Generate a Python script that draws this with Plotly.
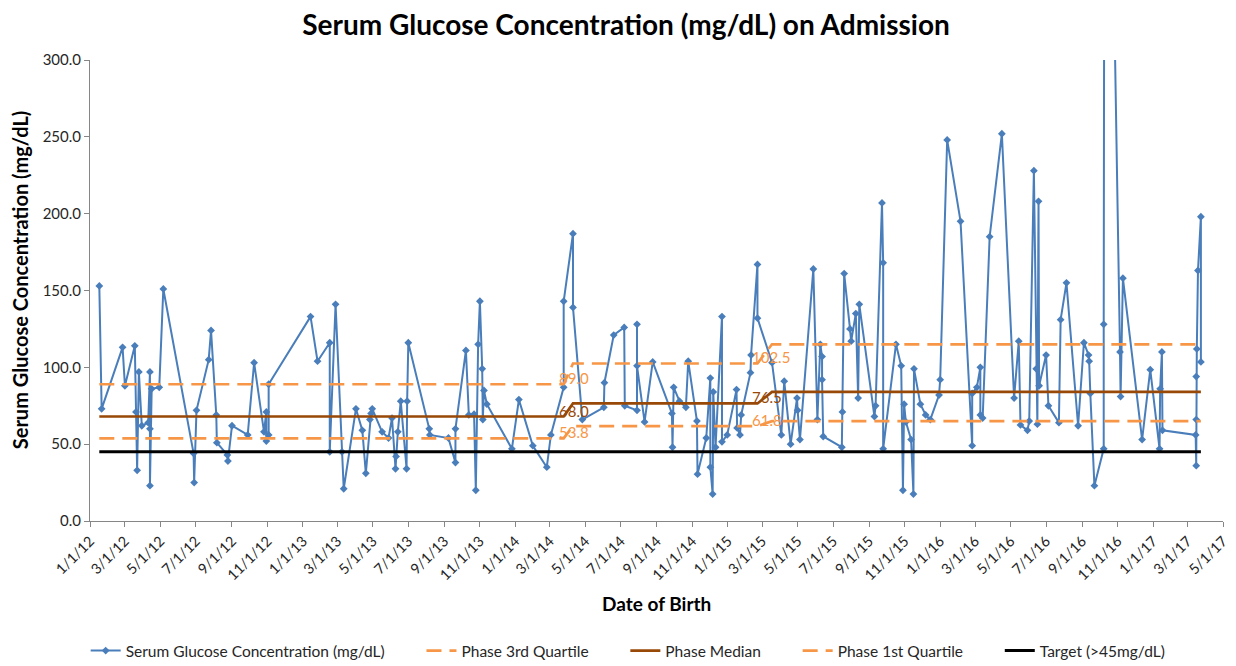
import pandas as pd
import plotly.graph_objects as go

# ---------------- data (dates as Excel serial numbers) ----------------
admit_serial = [
    40925, 40929, 40965, 40969, 40986, 40988, 40990, 40993, 40998, 41009,
    41012, 41012, 41012, 41015, 41028, 41035, 41087, 41088, 41092, 41113,
    41117, 41126, 41127, 41145, 41146, 41153, 41180, 41191, 41208, 41212,
    41212, 41216, 41216, 41288, 41300, 41321, 41321, 41331, 41342, 41345,
    41366, 41377, 41383, 41390, 41392, 41394, 41411, 41422, 41428, 41434,
    41435, 41438, 41443, 41453, 41454, 41456, 41492, 41493, 41525, 41537,
    41537, 41555, 41560, 41569, 41572, 41576, 41579, 41583, 41584, 41586,
    41591, 41634, 41646, 41670, 41694, 41701, 41723, 41723, 41739, 41739,
    41755, 41792, 41793, 41809, 41827, 41828, 41849, 41849, 41849, 41862,
    41876, 41909, 41910, 41912, 41922, 41933, 41937, 41952, 41953, 41968,
    41975, 41975, 41979, 41980, 41984, 41995, 41995, 42004, 42020, 42021,
    42026, 42028, 42044, 42045, 42056, 42056, 42081, 42097, 42102, 42113,
    42124, 42125, 42129, 42152, 42159, 42164, 42167, 42167, 42169, 42201,
    42202, 42205, 42215, 42217, 42225, 42229, 42231, 42257, 42259, 42270,
    42272, 42272, 42294, 42303, 42306, 42308, 42311, 42320, 42324, 42325,
    42336, 42345, 42353, 42368, 42370, 42382, 42405, 42425, 42425, 42433,
    42439, 42439, 42443, 42455, 42476, 42497, 42505, 42508, 42520, 42523,
    42531, 42535, 42537, 42539, 42540, 42552, 42556, 42574, 42577, 42587,
    42607, 42617, 42625, 42626, 42628, 42635, 42651, 42651, 42653, 42679,
    42680, 42684, 42717, 42731, 42747, 42748, 42751, 42752, 42809, 42810,
    42810, 42810, 42811, 42813, 42818, 42818,
]
glucose = [
    153, 73, 113, 88, 114, 71, 33, 97, 62, 64,
    97, 60, 23, 86, 87, 151, 44, 25, 72, 105,
    124, 69, 51, 43, 39, 62, 56, 103, 58, 71,
    52, 56, 89, 133, 104, 116, 45, 141, 45, 21,
    73, 59, 31, 66, 70, 73, 58, 54, 67, 34,
    42, 58, 78, 34, 78, 116, 60, 56, 54, 38,
    60, 111, 69, 69.5, 20, 115, 143, 99, 66, 85,
    76, 47, 79, 49, 35, 56, 87, 143, 187, 139,
    66, 74, 90, 121, 126, 75, 72, 128, 101, 64.5,
    103.5, 70, 48, 87, 78, 74, 104, 65, 30.5, 54,
    93, 35, 17.5, 84, 48, 133, 51.5, 56, 85.5, 60.6,
    56, 69, 96.5, 108, 167, 132, 103, 56, 91, 50,
    80, 72, 53, 164, 66, 115, 107, 92, 55, 48,
    71, 161, 125, 117, 135, 80, 141, 68, 75, 207,
    168, 47, 115, 101, 20, 76, 64.5, 53, 17.5, 99,
    76, 69, 66, 82, 92, 248, 195, 49, 83, 87,
    100, 69, 67, 185, 252, 80, 117, 62.5, 59, 65,
    228, 99, 63, 208, 88, 108, 75, 64, 131, 155,
    62, 116, 108, 104, 83, 23, 47, 128, 700, 110,
    81, 158, 53, 98.5, 47, 86, 110, 59, 56, 36,
    66, 94, 112, 163, 198, 103.5,
]

phase_start_serial = [40925, 41739, 42081]
phase_end_serial = [41723, 42056, 42818]
phase_q3 = [89.0, 102.5, 115.0]
phase_median = [68.0, 76.5, 84.0]
phase_q1 = [53.8, 61.8, 65.0]
labelled_phases = [0, 1]
target_value = 45

x_tick_labels = [
    "1/1/12", "3/1/12", "5/1/12", "7/1/12", "9/1/12", "11/1/12",
    "1/1/13", "3/1/13", "5/1/13", "7/1/13", "9/1/13", "11/1/13",
    "1/1/14", "3/1/14", "5/1/14", "7/1/14", "9/1/14", "11/1/14",
    "1/1/15", "3/1/15", "5/1/15", "7/1/15", "9/1/15", "11/1/15",
    "1/1/16", "3/1/16", "5/1/16", "7/1/16", "9/1/16", "11/1/16",
    "1/1/17", "3/1/17", "5/1/17",
]
y_tick_values = [0, 50, 100, 150, 200, 250, 300]

# ---------------- helpers ----------------
def to_date(serials):
    return pd.to_datetime(serials, unit="D", origin="1899-12-30")

dates = to_date(admit_serial)
tick_dates = pd.to_datetime(x_tick_labels, format="%m/%d/%y")

phase_x = []
for s, e in zip(phase_start_serial, phase_end_serial):
    phase_x += [s, e]
phase_x_dates = to_date(phase_x)

def step(values):
    out = []
    for v in values:
        out += [v, v]
    return out

BLUE = "#4A7EBB"
ORANGE = "#F79646"
BROWN = "#984807"
FONT = "Lato"
PAD = "\u00a0" * 8

fig = go.Figure()
fig.add_trace(go.Scatter(
    x=dates, y=glucose, mode="lines+markers",
    name="Serum Glucose Concentration (mg/dL)" + PAD,
    line=dict(color=BLUE, width=2),
    marker=dict(symbol="diamond", size=6, color=BLUE),
))
fig.add_trace(go.Scatter(
    x=phase_x_dates, y=step(phase_q3), mode="lines", name="Phase 3rd Quartile" + PAD,
    line=dict(color=ORANGE, width=2.7, dash="15px,8px"),
))
fig.add_trace(go.Scatter(
    x=phase_x_dates, y=step(phase_median), mode="lines", name="Phase Median" + PAD,
    line=dict(color=BROWN, width=2.7),
))
fig.add_trace(go.Scatter(
    x=phase_x_dates, y=step(phase_q1), mode="lines", name="Phase 1st Quartile" + PAD,
    line=dict(color=ORANGE, width=2.7, dash="15px,8px"),
))
fig.add_trace(go.Scatter(
    x=to_date([admit_serial[0], admit_serial[-1]]), y=[target_value, target_value],
    mode="lines", name="Target (>45mg/dL)",
    line=dict(color="black", width=3),
))

annotations = []
for i in labelled_phases:
    xd = to_date([phase_end_serial[i]])[0]
    for vals, col in ((phase_q3, ORANGE), (phase_median, BROWN), (phase_q1, ORANGE)):
        annotations.append(dict(
            x=xd, y=vals[i], xref="x", yref="y", text=f"{vals[i]:.1f}",
            showarrow=False, xanchor="left", yanchor="middle",
            xshift=-7, yshift=6, font=dict(family=FONT, size=15, color=col),
        ))

annotations.append(dict(
    x=0.5, y=-0.18, xref="paper", yref="paper", yanchor="middle",
    text="<b>Date of Birth</b>", showarrow=False,
    font=dict(family=FONT, size=19, color="black"),
))
annotations.append(dict(
    x=-0.0615, y=0.523, xref="paper", yref="paper", textangle=-90,
    text="<b>Serum Glucose Concentration (mg/dL)</b>", showarrow=False,
    xanchor="center", yanchor="middle",
    font=dict(family=FONT, size=20, color="black"),
))

# the page adds an 8px body margin, margins below compensate for it
fig.update_layout(
    width=1236, height=666,
    margin=dict(l=82, r=21, t=52, b=153, autoexpand=False),
    paper_bgcolor="white", plot_bgcolor="white",
    title=dict(text="<b>Serum Glucose Concentration (mg/dL) on Admission</b>",
               x=0.5, xanchor="center", y=0.974, yanchor="middle",
               font=dict(family=FONT, size=28, color="black")),
    font=dict(family=FONT, size=14, color="#262626"),
    showlegend=True,
    legend=dict(orientation="h", x=0.475, xanchor="center", y=-0.282, yanchor="middle",
                font=dict(family=FONT, size=15.5, color="#262626")),
    annotations=annotations,
    xaxis=dict(
        type="date", automargin=False,
        range=[tick_dates[0], tick_dates[-1]],
        tickvals=tick_dates, ticktext=x_tick_labels, tickangle=-45,
        tickfont=dict(family=FONT, size=14.5, color="#262626"),
        showline=True, linecolor="#868686", linewidth=1,
        ticks="outside", ticklen=5, tickcolor="#868686",
        showgrid=False, zeroline=False,
    ),
    yaxis=dict(
        range=[0, 300], tickvals=y_tick_values, tickformat=".1f", automargin=False,
        tickfont=dict(family=FONT, size=15, color="#262626"),
        showline=True, linecolor="#868686", linewidth=1,
        ticks="outside", ticklen=5, tickcolor="#868686",
        showgrid=False, zeroline=False,
    ),
)

fig.write_html("out.html")
